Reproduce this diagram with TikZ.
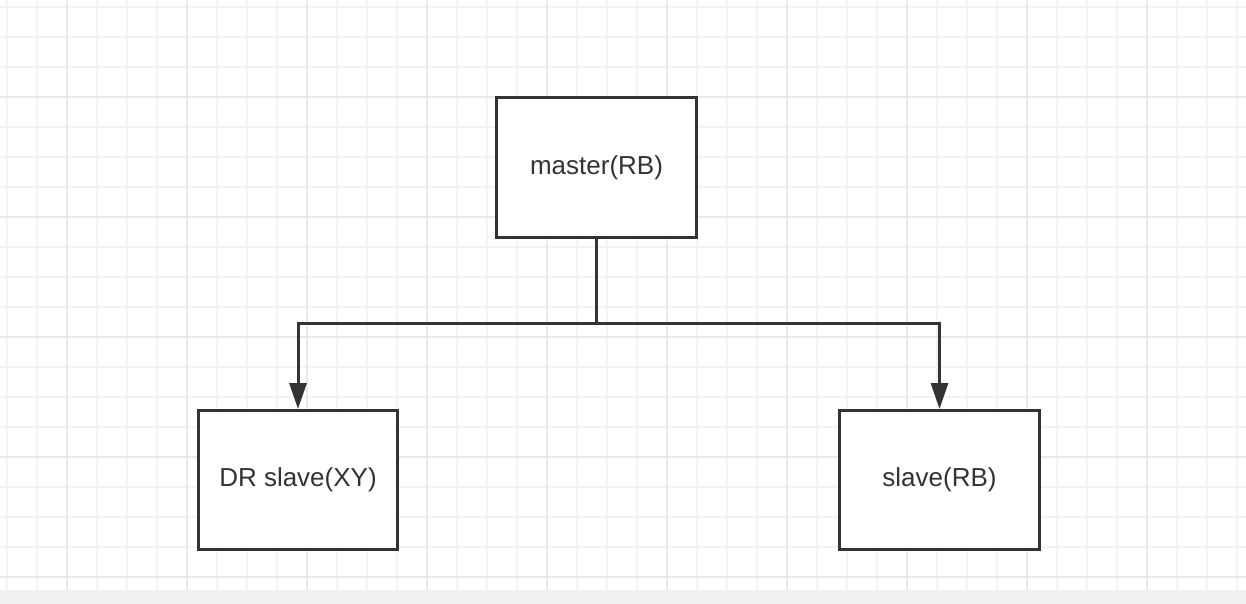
\documentclass[tikz,border=0pt]{standalone}
\usepackage{fontspec}
\setmainfont{Liberation Sans}
\usetikzlibrary{arrows.meta}
\definecolor{ink}{HTML}{333333}
\definecolor{gminor}{HTML}{F3F3F3}
\definecolor{gmajor}{HTML}{E8E8E8}
\definecolor{strip}{HTML}{F0F0F0}
\tikzset{
  box/.style={draw=ink, line width=3pt, fill=white, minimum width=200pt, minimum height=140pt, inner sep=0pt, font=\fontsize{26}{30}\selectfont, text=ink},
  conn/.style={draw=ink, line width=3pt},
  arr/.style={conn, -{Triangle[length=26pt,width=17pt]}}
}
\begin{document}
\begin{tikzpicture}[x=1pt,y=-1pt]
\useasboundingbox (0,0) rectangle (1246,604);
\fill[white] (0,0) rectangle (1246,604);
% minor grid
\foreach \i in {0,...,41} {\draw[gminor, line width=1.5pt] (7+30*\i,0) -- (7+30*\i,590);}
\foreach \j in {0,...,19} {\draw[gminor, line width=1.5pt] (0,7+30*\j) -- (1246,7+30*\j);}
% major grid
\foreach \i in {0,...,9} {\draw[gmajor, line width=1.5pt] (67+120*\i,0) -- (67+120*\i,590);}
\foreach \j in {0,...,4} {\draw[gmajor, line width=1.5pt] (0,97+120*\j) -- (1246,97+120*\j);}
\fill[strip] (0,590) rectangle (1246,604);
% nodes
\node[box] (master) at (596.5,167.5) {master(RB)};
\node[box, minimum width=199pt, minimum height=139pt] (dr) at (298,480) {DR slave(XY)};
\node[box, minimum width=200pt, minimum height=139pt] (sl) at (939.5,480) {slave(RB)};
\coordinate (j) at (596.5,323);
\draw[conn] (master.south) -- (j);
\draw[arr] (j) -| (dr.north);
\draw[arr] (j) -| (sl.north);
\end{tikzpicture}
\end{document}
